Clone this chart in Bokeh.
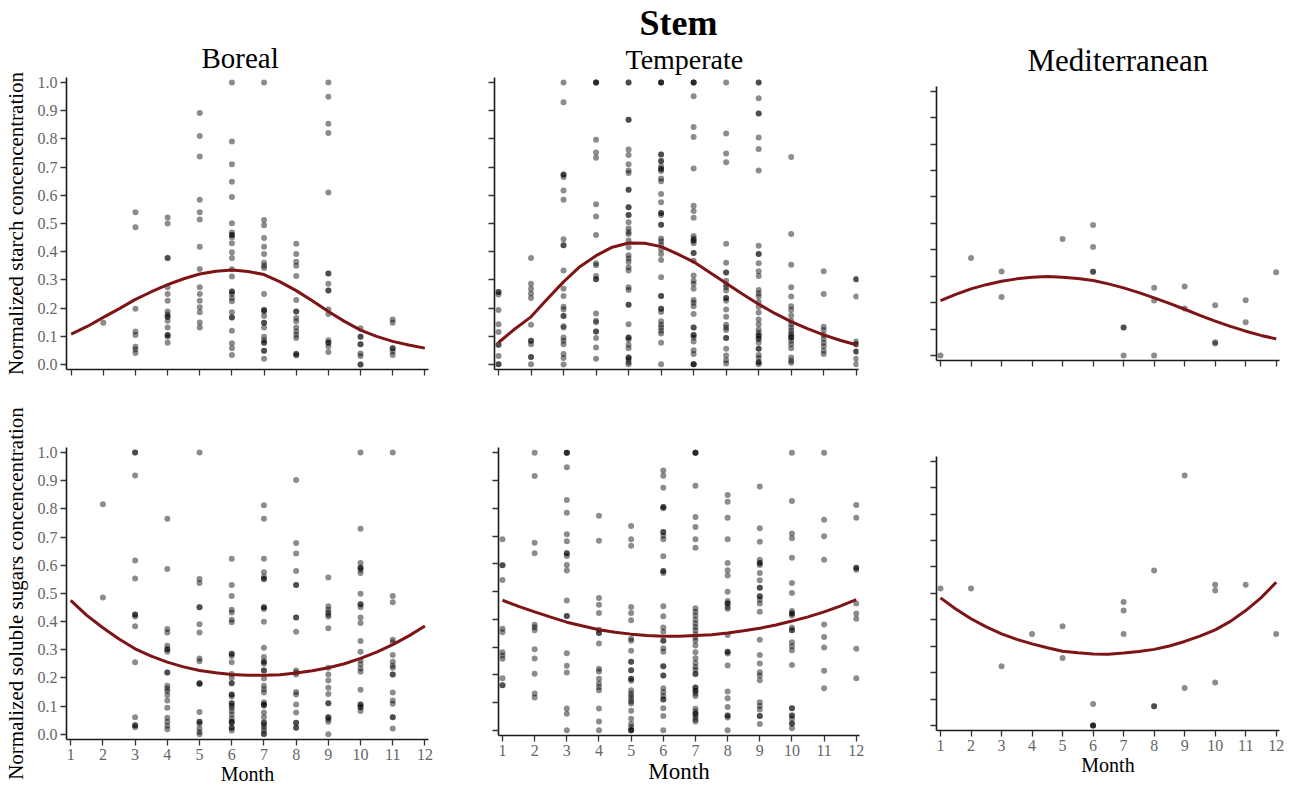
from bokeh.plotting import figure
from bokeh.layouts import column, row
from bokeh.models import FixedTicker, PrintfTickFormatter, CustomJSTickFormatter, Title, Range1d
from bokeh.embed import file_html
from bokeh.resources import INLINE

# ---------------- data ----------------
months = [1, 2, 3, 4, 5, 6, 7, 8, 9, 10, 11, 12]
month_labels = ["1", "2", "3", "4", "5", "6", "7", "8", "9", "10", "11", "12"]
y_ticks = [0.0, 0.1, 0.2, 0.3, 0.4, 0.5, 0.6, 0.7, 0.8, 0.9, 1.0]
fit_months = [1, 1.5, 2, 2.5, 3, 3.5, 4, 4.5, 5, 5.5, 6, 6.5, 7, 7.5, 8, 8.5, 9, 9.5, 10, 10.5, 11, 11.5, 12]

# Stem starch - Boreal (values per month 1..12)
boreal_starch = [
    [],
    [0.148],
    [0.54, 0.487, 0.198, 0.117, 0.105, 0.063, 0.053, 0.041],
    [0.521, 0.500, 0.378, 0.378, 0.274, 0.25, 0.226, 0.188, 0.177, 0.169, 0.169, 0.155, 0.131, 0.105, 0.105, 0.098, 0.077],
    [0.892, 0.810, 0.738, 0.584, 0.540, 0.514, 0.418, 0.339, 0.274, 0.25, 0.226, 0.203, 0.185, 0.149, 0.131],
    [1.0, 0.791, 0.710, 0.648, 0.594, 0.501, 0.468, 0.459, 0.459, 0.451, 0.430, 0.398, 0.378, 0.338, 0.312, 0.259, 0.259,
     0.25, 0.236, 0.224, 0.185, 0.167, 0.167, 0.120, 0.075, 0.058, 0.034],
    [1.0, 0.512, 0.494, 0.449, 0.418, 0.392, 0.361, 0.350, 0.342, 0.25, 0.193, 0.193, 0.188, 0.172, 0.148, 0.148, 0.131,
     0.098, 0.086, 0.077, 0.077, 0.049, 0.049, 0.020],
    [0.428, 0.392, 0.364, 0.350, 0.314, 0.229, 0.188, 0.188, 0.165, 0.153, 0.131, 0.117, 0.105, 0.094, 0.037, 0.037, 0.032],
    [1.0, 0.949, 0.854, 0.821, 0.610, 0.323, 0.323, 0.286, 0.262, 0.262, 0.195, 0.179, 0.086, 0.077, 0.077, 0.065, 0.044],
    [0.129, 0.098, 0.098, 0.072, 0.072, 0.039, 0.030, 0.0, 0.0],
    [0.160, 0.148, 0.058, 0.058, 0.046, 0.034],
    [],
]
boreal_starch_fit = [0.108, 0.135, 0.167, 0.198, 0.231, 0.258, 0.283, 0.304, 0.321, 0.331, 0.335, 0.330, 0.319,
                     0.293, 0.262, 0.226, 0.188, 0.153, 0.122, 0.100, 0.082, 0.069, 0.058]

# Stem starch - Temperate
temperate_starch = [
    [0.257, 0.257, 0.248, 0.193, 0.143, 0.115, 0.070, 0.070, 0.030, 0.001, 0.001],
    [0.378, 0.286, 0.269, 0.252, 0.236, 0.141, 0.084, 0.084, 0.072, 0.027, 0.027, 0.001],
    [1.0, 0.930, 0.674, 0.674, 0.665, 0.617, 0.584, 0.444, 0.423, 0.423, 0.333, 0.269, 0.243, 0.205, 0.195, 0.172, 0.172,
     0.136, 0.131, 0.096, 0.084, 0.072, 0.037, 0.023, 0.0],
    [1.0, 1.0, 1.0, 0.797, 0.752, 0.733, 0.568, 0.525, 0.459, 0.359, 0.352, 0.314, 0.302, 0.302, 0.181, 0.155, 0.150,
     0.117, 0.117, 0.094, 0.060, 0.020],
    [1.0, 1.0, 0.868, 0.868, 0.762, 0.743, 0.710, 0.688, 0.679, 0.620, 0.620, 0.558, 0.558, 0.530, 0.530, 0.504, 0.482,
     0.470, 0.463, 0.440, 0.416, 0.387, 0.376, 0.364, 0.345, 0.333, 0.274, 0.264, 0.212, 0.212, 0.143, 0.096, 0.096,
     0.089, 0.070, 0.058, 0.025, 0.025, 0.018, 0.008, 0.001],
    [1.0, 1.0, 1.0, 0.745, 0.745, 0.722, 0.722, 0.703, 0.693, 0.693, 0.686, 0.660, 0.650, 0.605, 0.575, 0.537, 0.537,
     0.530, 0.496, 0.496, 0.447, 0.437, 0.425, 0.409, 0.392, 0.371, 0.309, 0.243, 0.243, 0.198, 0.198, 0.186, 0.153,
     0.141, 0.131, 0.120, 0.110, 0.077, 0.001],
    [1.0, 1.0, 1.0, 0.951, 0.842, 0.807, 0.695, 0.563, 0.544, 0.520, 0.456, 0.447, 0.440, 0.440, 0.430, 0.395, 0.395,
     0.368, 0.316, 0.297, 0.286, 0.269, 0.229, 0.219, 0.207, 0.179, 0.131, 0.131, 0.105, 0.105, 0.096, 0.082, 0.051,
     0.037, 0.001, 0.001, 0.001],
    [1.0, 0.819, 0.748, 0.717, 0.428, 0.361, 0.326, 0.326, 0.297, 0.283, 0.274, 0.262, 0.236, 0.236, 0.226, 0.195, 0.169,
     0.141, 0.131, 0.122, 0.094, 0.094, 0.056, 0.032, 0.015, 0.004],
    [1.0, 1.0, 0.944, 0.890, 0.890, 0.805, 0.764, 0.688, 0.421, 0.392, 0.392, 0.359, 0.331, 0.314, 0.264, 0.252, 0.241,
     0.222, 0.205, 0.184, 0.160, 0.143, 0.124, 0.113, 0.103, 0.103, 0.091, 0.091, 0.077, 0.056, 0.056, 0.034, 0.023,
     0.008, 0.008, 0.001],
    [0.736, 0.463, 0.354, 0.274, 0.241, 0.207, 0.193, 0.174, 0.155, 0.143, 0.131, 0.120, 0.110, 0.103, 0.096, 0.096,
     0.084, 0.072, 0.058, 0.025, 0.013, 0.006],
    [0.331, 0.250, 0.134, 0.122, 0.105, 0.091, 0.077, 0.065, 0.049, 0.037],
    [0.302, 0.302, 0.241, 0.082, 0.072, 0.072, 0.046, 0.046, 0.020, 0.001],
]
temperate_starch_fit = [0.078, 0.126, 0.169, 0.232, 0.293, 0.347, 0.386, 0.416, 0.431, 0.430, 0.418, 0.392, 0.364,
                        0.326, 0.288, 0.250, 0.214, 0.181, 0.152, 0.127, 0.105, 0.086, 0.070]

# Stem starch - Mediterranean
mediterranean_starch = [
    [0.0], [0.369], [0.318, 0.221], [], [0.441], [0.494, 0.411, 0.317, 0.317],
    [0.106, 0.106, 0.0], [0.256, 0.208, 0.0], [0.261, 0.178], [0.190, 0.050, 0.045], [0.209, 0.126], [0.315],
]
mediterranean_starch_fit = [0.208, 0.231, 0.252, 0.268, 0.281, 0.290, 0.296, 0.299, 0.296, 0.291, 0.284, 0.271, 0.256,
                            0.238, 0.218, 0.197, 0.175, 0.152, 0.130, 0.110, 0.092, 0.076, 0.063]

# Stem soluble sugars - Boreal
boreal_sugars = [
    [],
    [0.816, 0.485],
    [1.0, 1.0, 0.918, 0.617, 0.553, 0.425, 0.425, 0.418, 0.383, 0.255, 0.060, 0.032, 0.032, 0.025],
    [0.765, 0.586, 0.373, 0.361, 0.314, 0.302, 0.302, 0.293, 0.219, 0.219, 0.172, 0.162, 0.153, 0.139, 0.120, 0.094,
     0.058, 0.044, 0.030, 0.018],
    [1.0, 0.551, 0.537, 0.451, 0.451, 0.390, 0.361, 0.269, 0.259, 0.181, 0.181, 0.177, 0.079, 0.044, 0.044, 0.037, 0.020,
     0.008, 0.0],
    [0.623, 0.530, 0.491, 0.442, 0.432, 0.406, 0.397, 0.286, 0.286, 0.278, 0.255, 0.214, 0.200, 0.181, 0.181, 0.141,
     0.141, 0.134, 0.110, 0.110, 0.101, 0.094, 0.082, 0.070, 0.056, 0.044, 0.044, 0.039, 0.023, 0.023, 0.013],
    [0.813, 0.765, 0.623, 0.575, 0.558, 0.551, 0.551, 0.451, 0.451, 0.444, 0.399, 0.307, 0.274, 0.257, 0.257, 0.250,
     0.226, 0.226, 0.198, 0.172, 0.160, 0.148, 0.113, 0.105, 0.105, 0.101, 0.077, 0.060, 0.041, 0.041, 0.032, 0.023,
     0.013, 0.001, 0.001],
    [0.902, 0.679, 0.641, 0.579, 0.530, 0.530, 0.414, 0.414, 0.364, 0.226, 0.219, 0.212, 0.150, 0.141, 0.105, 0.077,
     0.041, 0.041, 0.023, 0.023],
    [0.556, 0.454, 0.442, 0.432, 0.425, 0.418, 0.376, 0.236, 0.212, 0.191, 0.165, 0.143, 0.110, 0.110, 0.060, 0.060,
     0.053, 0.044, 0.0],
    [1.0, 0.729, 0.608, 0.591, 0.591, 0.584, 0.572, 0.499, 0.461, 0.461, 0.451, 0.414, 0.395, 0.331, 0.293, 0.262,
     0.248, 0.233, 0.222, 0.158, 0.105, 0.105, 0.096, 0.096, 0.082],
    [1.0, 0.491, 0.468, 0.335, 0.326, 0.281, 0.257, 0.243, 0.236, 0.212, 0.212, 0.148, 0.120, 0.108, 0.060, 0.060, 0.020],
    [],
]
boreal_sugars_fit = [0.475, 0.422, 0.378, 0.338, 0.303, 0.277, 0.256, 0.239, 0.226, 0.218, 0.212, 0.209, 0.209,
                     0.211, 0.217, 0.225, 0.236, 0.250, 0.269, 0.291, 0.318, 0.349, 0.384]

# Stem soluble sugars - Temperate
temperate_sugars = [
    [0.689, 0.595, 0.595, 0.542, 0.366, 0.354, 0.282, 0.270, 0.258, 0.188, 0.163, 0.163],
    [1.0, 0.916, 0.676, 0.638, 0.381, 0.372, 0.361, 0.293, 0.259, 0.204, 0.133, 0.119],
    [1.0, 1.0, 1.0, 0.948, 0.830, 0.784, 0.707, 0.681, 0.638, 0.638, 0.628, 0.596, 0.576, 0.468, 0.412, 0.412, 0.278,
     0.233, 0.209, 0.079, 0.060, 0.001],
    [0.773, 0.683, 0.477, 0.453, 0.423, 0.363, 0.351, 0.351, 0.313, 0.222, 0.212, 0.186, 0.169, 0.157, 0.145, 0.079,
     0.032, 0.001],
    [0.736, 0.689, 0.665, 0.445, 0.423, 0.397, 0.330, 0.323, 0.287, 0.248, 0.248, 0.217, 0.217, 0.186, 0.186, 0.179,
     0.145, 0.133, 0.124, 0.114, 0.104, 0.097, 0.071, 0.042, 0.023, 0.013, 0.001, 0.001, 0.001],
    [0.936, 0.917, 0.874, 0.805, 0.805, 0.800, 0.715, 0.715, 0.701, 0.689, 0.627, 0.574, 0.574, 0.567, 0.447, 0.411,
     0.371, 0.356, 0.323, 0.323, 0.296, 0.284, 0.231, 0.231, 0.198, 0.198, 0.152, 0.138, 0.124, 0.112, 0.112, 0.080,
     0.052, 0.001],
    [1.0, 1.0, 1.0, 0.881, 0.769, 0.733, 0.689, 0.658, 0.440, 0.428, 0.414, 0.399, 0.385, 0.373, 0.361, 0.347, 0.335,
     0.323, 0.306, 0.282, 0.260, 0.243, 0.229, 0.219, 0.203, 0.203, 0.155, 0.155, 0.143, 0.143, 0.133, 0.124, 0.078,
     0.068, 0.059, 0.059, 0.049, 0.040, 0.032],
    [0.848, 0.824, 0.766, 0.689, 0.603, 0.577, 0.558, 0.500, 0.466, 0.457, 0.457, 0.445, 0.438, 0.344, 0.284, 0.284,
     0.277, 0.234, 0.140, 0.116, 0.085, 0.054, 0.054, 0.047, 0.001],
    [0.879, 0.728, 0.680, 0.615, 0.603, 0.603, 0.596, 0.567, 0.541, 0.514, 0.514, 0.483, 0.483, 0.471, 0.457, 0.428,
     0.327, 0.272, 0.241, 0.210, 0.198, 0.181, 0.102, 0.088, 0.076, 0.052, 0.052, 0.023],
    [1.0, 0.826, 0.709, 0.692, 0.622, 0.531, 0.495, 0.430, 0.421, 0.421, 0.414, 0.371, 0.361, 0.361, 0.318, 0.303,
     0.289, 0.236, 0.080, 0.080, 0.054, 0.054, 0.042, 0.025, 0.025, 0.008],
    [1.0, 0.759, 0.699, 0.615, 0.382, 0.337, 0.299, 0.215, 0.152],
    [0.812, 0.766, 0.586, 0.586, 0.579, 0.457, 0.421, 0.402, 0.294, 0.188],
]
temperate_sugars_fit = [0.469, 0.447, 0.427, 0.408, 0.390, 0.376, 0.363, 0.354, 0.347, 0.342, 0.339, 0.339, 0.342,
                        0.345, 0.351, 0.359, 0.368, 0.380, 0.394, 0.409, 0.427, 0.448, 0.471]

# Stem soluble sugars - Mediterranean
mediterranean_sugars = [
    [0.518], [0.518], [0.224], [0.346], [0.376, 0.255], [0.081, 0.0, 0.0, 0.0],
    [0.467, 0.435, 0.346], [0.586, 0.073, 0.073], [0.946, 0.142], [0.533, 0.511, 0.163], [0.533], [0.346],
]
mediterranean_sugars_fit = [0.483, 0.441, 0.404, 0.373, 0.347, 0.326, 0.309, 0.294, 0.281, 0.275, 0.271, 0.270,
                            0.274, 0.280, 0.288, 0.301, 0.318, 0.338, 0.362, 0.394, 0.435, 0.483, 0.542]

# ---------------- styling ----------------
FONT = "Liberation Serif"
DOT = "black"
CURVE = "#7d1416"


def expand(groups):
    xs, ys = [], []
    for m, vals in zip(months, groups):
        xs.extend([m] * len(vals))
        ys.extend(vals)
    return xs, ys


def panel(groups, fit, width, height, borders, xr, yr, show_x_labels, show_y_labels,
          ylabel=None, titles=(), month_font="20px"):
    left, right, top, bottom = borders
    p = figure(width=width, height=height, output_backend="svg", toolbar_location=None,
               x_range=Range1d(*xr), y_range=Range1d(*yr),
               min_border_left=left, min_border_right=right, min_border_top=top, min_border_bottom=bottom)
    p.title = None
    for (txt, size, style, offset, standoff) in titles:
        p.add_layout(Title(text=txt, align="left", text_font=FONT, text_font_size=size,
                           text_font_style=style, text_color="black", offset=offset, standoff=standoff), "above")
    p.outline_line_color = None
    p.xgrid.visible = False
    p.ygrid.visible = False
    p.background_fill_color = "white"
    p.border_fill_color = "white"

    xs, ys = expand(groups)
    p.scatter(xs, ys, size=6, marker="circle", fill_color=DOT, fill_alpha=0.45, line_color=None)
    p.line(fit_months, fit, line_color=CURVE, line_width=3)

    for ax in (p.xaxis[0], p.yaxis[0]):
        ax.axis_line_color = "#1a1a1a"
        ax.axis_line_width = 1.6
        ax.major_tick_line_color = "#333333"
        ax.major_tick_line_width = 1.3
        ax.major_tick_in = 0
        ax.major_tick_out = 6
        ax.minor_tick_line_color = None
        ax.major_label_text_font = FONT
        ax.major_label_text_color = "#666666"
        ax.major_label_text_font_size = "16px"
        ax.axis_label_text_font = FONT
        ax.axis_label_text_font_style = "normal"
        ax.axis_label_text_color = "black"

    p.xaxis.ticker = FixedTicker(ticks=months)
    p.yaxis.ticker = FixedTicker(ticks=y_ticks)
    p.xaxis.major_label_standoff = 3
    p.yaxis.major_label_standoff = 3
    if show_x_labels:
        p.xaxis.major_label_overrides = {m: lab for m, lab in zip(months, month_labels)}
        p.xaxis.axis_label = "Month"
        p.xaxis.axis_label_text_font_size = month_font
        p.xaxis.axis_label_standoff = 0
    else:
        p.xaxis.formatter = CustomJSTickFormatter(code="return ''")
    if show_y_labels:
        p.yaxis.formatter = PrintfTickFormatter(format="%.1f")
    else:
        p.yaxis.formatter = CustomJSTickFormatter(code="return ''")
    if ylabel:
        p.yaxis.axis_label = ylabel
        p.yaxis.axis_label_text_font_size = "21px"
        p.yaxis.axis_label_standoff = 7
    return p


p1 = panel(boreal_starch, boreal_starch_fit, 440, 400, (62, 12, 77, 31),
           (0.855, 12.114), (-0.0177, 1.0177), False, True,
           ylabel="Normalized starch concencentration",
           titles=[("Boreal", "29px", "normal", 135, 7)])
p2 = panel(temperate_starch, temperate_starch_fit, 440, 400, (54, 22, 77, 31),
           (0.877, 12.07), (-0.0177, 1.0177), False, False,
           titles=[("Temperate", "28px", "normal", 131, 5), ("Stem", "36px", "bold", 145, -7)])
p3 = panel(mediterranean_starch, mediterranean_starch_fit, 413, 400, (56, 14, 86, 40),
           (0.869, 12.108), (-0.0189, 1.0178), False, False,
           titles=[("Mediterranean", "31px", "normal", 91, 17)])

p4 = panel(boreal_sugars, boreal_sugars_fit, 440, 389, (62, 12, 47, 50),
           (0.870, 12.11), (-0.0188, 1.0177), True, True,
           ylabel="Normalized soluble sugars concencentration")
p5 = panel(temperate_sugars, temperate_sugars_fit, 440, 389, (58, 21, 47, 54),
           (0.876, 12.10), (-0.018, 1.019), True, False, month_font="23px")
p6 = panel(mediterranean_sugars, mediterranean_sugars_fit, 413, 389, (56, 14, 56, 59),
           (0.869, 12.108), (-0.0189, 1.0178), True, False)

layout = column(row(column(p1), column(p2), column(p3)),
                row(column(p4), column(p5), column(p6)))
open("out.html", "w").write(file_html(layout, INLINE))
